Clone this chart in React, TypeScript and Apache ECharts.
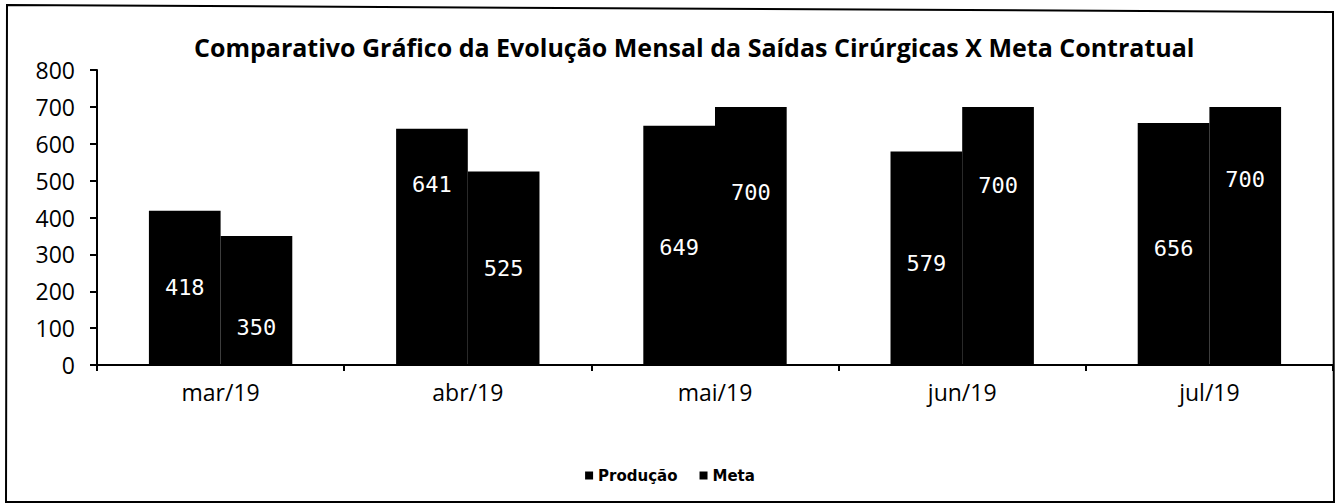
import React, { useEffect, useRef } from "react";
import * as echarts from "echarts";

const categories = ["mar/19", "abr/19", "mai/19", "jun/19", "jul/19"];
const producao = [418, 641, 649, 579, 656];
const meta = [350, 525, 700, 700, 700];
const producaoLabelShift = [0, -62, 2, 5, 4];
const metaLabelShift = [27, 0, -43, -50, -56];
const yTicks = [0, 100, 200, 300, 400, 500, 600, 700, 800];

const TITLE = "Comparativo Gráfico da Evolução Mensal da Saídas Cirúrgicas X Meta Contratual";

export default function App() {
  const ref = useRef<HTMLDivElement>(null);
  useEffect(() => {
    if (!ref.current) return;
    const chart = echarts.init(ref.current, null, { renderer: "svg" });
    const labelBase = {
      show: true,
      position: "inside",
      color: "#ffffff",
      fontFamily: "DejaVu Sans Mono",
      fontSize: 22,
    };
    const mk = (vals: number[], shifts: number[]) =>
      vals.map((v, i) => ({ value: v, label: { offset: [0, shifts[i]] } }));
    chart.setOption({
      animation: false,
      backgroundColor: "#ffffff",
      title: {
        text: TITLE,
        left: 189,
        top: 29,
        textStyle: { fontFamily: "Open Sans", fontWeight: "bold", fontSize: 25, color: "#000" },
      },
      legend: {
        data: ["Produção", "Meta"],
        left: "center",
        top: 463,
        icon: "rect",
        itemWidth: 8,
        itemHeight: 8,
        itemGap: 22,
        textStyle: { fontFamily: "DejaVu Sans", fontWeight: "bold", fontSize: 15, color: "#000" },
      },
      grid: { left: 97, right: 7, top: 70, bottom: 139 },
      xAxis: {
        type: "category",
        data: categories,
        axisLine: { lineStyle: { color: "#000", width: 2 } },
        axisTick: { show: true, length: 6, lineStyle: { color: "#000", width: 2 } },
        axisLabel: { fontFamily: "Open Sans", fontSize: 23, color: "#000", margin: 15 },
      },
      yAxis: {
        type: "value",
        min: yTicks[0],
        max: yTicks[yTicks.length - 1],
        interval: 100,
        axisLine: { show: true, lineStyle: { color: "#000", width: 2 } },
        axisTick: { show: true, length: 7, lineStyle: { color: "#000", width: 2 } },
        splitLine: { show: false },
        axisLabel: { fontFamily: "Open Sans", fontSize: 23, color: "#000", margin: 22 },
      },
      series: [
        {
          name: "Produção",
          type: "bar",
          data: mk(producao, producaoLabelShift),
          barGap: "0%",
          barCategoryGap: "42%",
          itemStyle: { color: "#000" },
          label: labelBase,
        },
        {
          name: "Meta",
          type: "bar",
          data: mk(meta, metaLabelShift),
          barGap: "0%",
          barCategoryGap: "42%",
          itemStyle: { color: "#000" },
          label: labelBase,
        },
      ],
      graphic: [
        {
          type: "polygon",
          shape: { points: [[7, 5], [1333, 12], [1334, 502], [6, 502]] },
          style: { fill: "none", stroke: "#000", lineWidth: 2 },
          silent: true,
        },
      ],
    });
    return () => chart.dispose();
  }, []);
  return (
    <div style={{ position: "fixed", left: 0, top: 0, width: 1340, height: 504 }}>
      <div ref={ref} style={{ width: 1340, height: 504 }} />
    </div>
  );
}
